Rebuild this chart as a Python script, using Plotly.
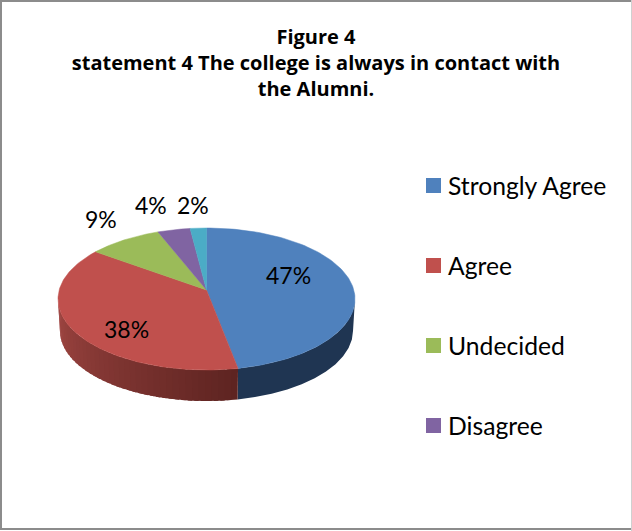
import numpy as np
import plotly.graph_objects as go

categories = ["Strongly Agree", "Agree", "Undecided", "Disagree", "Strongly Disagree"]
values = [47, 38, 9, 4, 2]
colors = ["#4F81BD", "#C0504D", "#9BBB59", "#8064A2", "#4BACC6"]
in_legend = [True, True, True, True, False]
title_lines = ["Figure 4", "statement 4 The college is always in contact with", "the Alumni."]

# page-pixel geometry of the tilted pie
W, H = 632, 531
CX, CY, RX, RY = 206.5, 299, 148.5, 71
AX, AY = 206.5, 290
BX, BY, BRX, BRY = 206.5, 331, 146.5, 70
label_xy = [(288, 275), (126, 329), (101, 219), (151, 205), (193, 205)]
legend_x, legend_text_x, legend_y0, legend_step = 433.5, 447, 185.5, 80

FONT = "Lato, Carlito, Calibri, sans-serif"

def top(t):
    return CX + RX * np.sin(t), CY - RY * np.cos(t)

def bottom(t):
    return BX + BRX * np.sin(t), BY - BRY * np.cos(t)

def perspective(theta):
    # a circle seen in perspective: its centre lands on the apex, above the ellipse centre
    h = (CY - AY) / RY
    s, c = np.sin(theta), np.cos(theta)
    t = np.arctan2(s * np.sqrt(1 - h * h), c + h)
    return np.where(t < 0, t + 2 * np.pi, t)

def side_strip(t0, t1, color):
    t = np.linspace(t0, t1, 12)
    x0, y0 = top(t)
    x1, y1 = bottom(t[::-1])
    return go.Scatter(x=np.r_[x0, x1, x0[0]], y=np.r_[y0, y1, y0[0]], mode="lines",
                      fill="toself", fillcolor=color, line=dict(width=0),
                      hoverinfo="skip", showlegend=False)

def lerp(c0, c1, f):
    return "rgb(%d,%d,%d)" % tuple(round(a + (b - a) * f) for a, b in zip(c0, c1))

fractions = np.array(values) / sum(values)
edges = 2 * np.pi * np.r_[0, np.cumsum(fractions)]
edges = np.r_[0, perspective(edges[1:-1]), 2 * np.pi]

fig = go.Figure()

# visible wall: blue part, then the red part with its shading
fig.add_trace(side_strip(np.pi / 2, edges[1], "#1F3552"))
n = 40
ts = np.linspace(edges[1], 3 * np.pi / 2, n + 1)
for i in range(n):
    f = 1 - i / (n - 1)
    fig.add_trace(side_strip(ts[i], min(ts[i + 1] + 0.03, ts[-1]),
                             lerp((160, 70, 66), (94, 36, 33), f)))

# top faces
for name, color, t0, t1 in zip(categories, colors, edges[:-1], edges[1:]):
    t = np.linspace(t0, t1, 120)
    x, y = top(t)
    fig.add_trace(go.Scatter(x=np.r_[AX, x, AX], y=np.r_[AY, y, AY], mode="lines",
                             fill="toself", fillcolor=color, line=dict(color=color, width=0.5),
                             name=name, showlegend=False, hoverinfo="name"))

annotations = [dict(x=x, y=y, text=f"{v}%", showarrow=False, xref="x", yref="y",
                    font=dict(family=FONT, size=23, color="#000000"))
               for (x, y), v in zip(label_xy, values)]

# legend rows
row = 0
for name, color, show in zip(categories, colors, in_legend):
    if show:
        y = legend_y0 + row * legend_step
        fig.add_trace(go.Scatter(x=[legend_x], y=[y], mode="markers", name=name, showlegend=False,
                                 marker=dict(symbol="square", size=15, color=color), hoverinfo="name"))
        annotations.append(dict(x=legend_text_x, y=y, text=name, showarrow=False, xref="x", yref="y",
                                xanchor="left", yanchor="middle", xshift=-1,
                                font=dict(family=FONT, size=24.7, color="#000000")))
        row += 1

def edge(x0, y0, x1, y1, color):
    return dict(type="line", xref="x", yref="y", x0=x0, y0=y0, x1=x1, y1=y1, line=dict(color=color, width=2))

fig.update_layout(
    width=W, height=H, autosize=False,
    margin=dict(l=0, r=0, t=0, b=0),
    paper_bgcolor="white", plot_bgcolor="white",
    showlegend=False,
    title=dict(text="<br>".join(title_lines), x=316 / W, xanchor="center", y=1 - 44 / H, yanchor="top",
               font=dict(family="Open Sans, sans-serif", size=20, color="#000000", weight="bold")),
    xaxis=dict(range=[0, W], visible=False, fixedrange=True),
    yaxis=dict(range=[H, 0], visible=False, fixedrange=True),
    annotations=annotations,
    shapes=[edge(1, 0, 1, H - 1, "#8C8C8C"), edge(0, 1, W, 1, "#8C8C8C"),
            edge(0, H - 2, W, H - 2, "#8C8C8C"), edge(W, 0, W, H, "#D0D0D0")],
)
fig.write_html("out.html", config=dict(displayModeBar=False),
               post_script="document.body.style.margin='0';")
